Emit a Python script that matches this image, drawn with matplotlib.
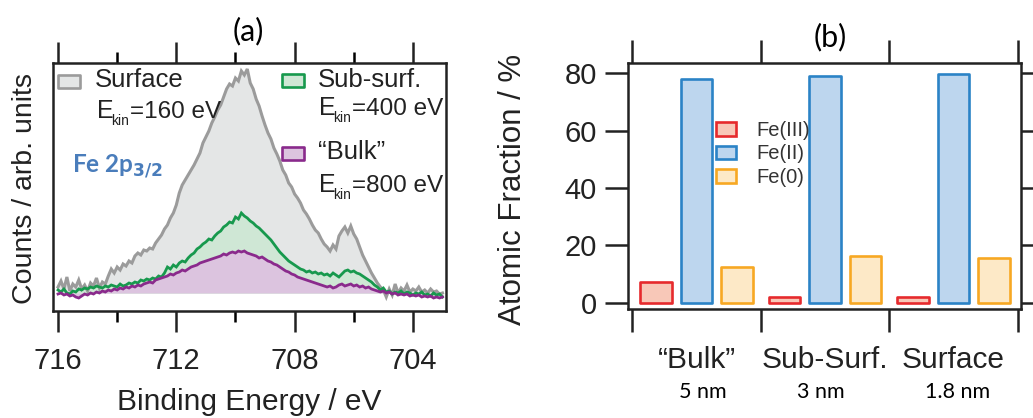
import numpy as np
import matplotlib
matplotlib.use("Agg")
import matplotlib.pyplot as plt
from matplotlib.patches import Rectangle

plt.rcParams['font.family'] = ['Liberation Sans', 'DejaVu Sans']
plt.rcParams['mathtext.fontset'] = 'custom'
plt.rcParams['mathtext.rm'] = 'Liberation Sans'

# ---------------- data: panel (a) spectra (arb. units) ----------------
energy = np.linspace(716.0, 703.0, 131)   # binding energy grid, eV

surface = [24, 30, 22, 34, 20, 27, 24, 31, 22, 26,
           20, 28, 25, 33, 23, 29, 27, 35, 42, 38,
           44, 41, 47, 45, 50, 48, 55, 58, 56, 61,
           60, 63, 62, 68, 72, 76, 82, 86, 93, 98,
           106, 118, 126, 131, 136, 141, 146, 152, 158, 168,
           174, 180, 188, 194, 201, 206, 214, 222, 227, 225,
           233, 230, 240, 236, 242, 228, 222, 212, 205, 195,
           186, 178, 172, 163, 157, 150, 141, 136, 128, 124,
           117, 113, 108, 101, 97, 92, 86, 81, 78, 72,
           67, 64, 60, 66, 62, 75, 80, 84, 78, 85,
           77, 72, 64, 56, 50, 44, 38, 33, 28, 24,
           21, 14, 22, 16, 27, 18, 23, 20, 26, 19,
           22, 20, 24, 19, 21, 18, 22, 19, 20, 17, 18]

subsurf = [21, 19, 22, 18, 17, 20, 19, 22, 21, 23,
           22, 24, 23, 25, 24, 23, 25, 24, 26, 25,
           24, 27, 25, 26, 28, 27, 29, 28, 31, 30,
           32, 31, 33, 32, 35, 34, 38, 44, 42, 46,
           44, 48, 50, 49, 53, 56, 58, 62, 64, 67,
           69, 72, 71, 75, 78, 80, 84, 86, 89, 88,
           94, 92, 98, 95, 93, 90, 88, 85, 83, 80,
           77, 74, 71, 67, 63, 59, 56, 53, 50, 48,
           46, 44, 42, 41, 39, 40, 38, 39, 37, 38,
           36, 37, 35, 38, 36, 34, 37, 40, 41, 39,
           40, 38, 37, 35, 33, 31, 29, 26, 24, 21,
           23, 19, 20, 17, 19, 18, 20, 17, 19, 18,
           16, 18, 17, 19, 16, 17, 15, 18, 16, 17, 14]

bulk = [17, 18, 16, 17, 15, 16, 14, 13, 15, 17,
        16, 18, 17, 19, 18, 20, 19, 21, 20, 22,
        21, 23, 22, 24, 23, 25, 24, 26, 25, 27,
        28, 29, 28, 31, 32, 33, 34, 35, 37, 36,
        38, 39, 41, 40, 42, 44, 45, 46, 48, 49,
        50, 51, 52, 53, 54, 55, 57, 56, 58, 59,
        58, 60, 59, 60, 58, 57, 56, 55, 53, 54,
        52, 50, 49, 47, 46, 44, 42, 40, 39, 37,
        36, 34, 33, 32, 31, 30, 29, 28, 27, 26,
        25, 24, 25, 23, 24, 26, 27, 25, 26, 27,
        25, 26, 24, 25, 23, 24, 22, 21, 20, 19,
        20, 18, 19, 17, 18, 16, 17, 16, 17, 15,
        16, 15, 16, 14, 15, 14, 15, 13, 14, 13, 14]

spectra_labels = ['Surface', 'Sub-surf.', '\u201cBulk\u201d']
spectra_ekin = ['160', '400', '800']

# ---------------- data: panel (b) atomic fractions ----------------
categories = ['\u201cBulk\u201d', 'Sub-Surf.', 'Surface']
depths = ['5 nm', '3 nm', '1.8 nm']
species = ['Fe(III)', 'Fe(II)', 'Fe(0)']
fe3 = [7.2, 2.0, 2.0]
fe2 = [78.0, 79.0, 79.6]
fe0 = [12.4, 16.5, 15.6]

# ---------------- figure ----------------
W, H = 1033, 418
fig = plt.figure(figsize=(W / 100, H / 100), dpi=100)
TXT = '#222222'

def fx(px):
    return px / W

def fy(py):
    return 1 - py / H

# ---- panel (a) ----
axa = fig.add_axes([fx(53), fy(311), (446 - 53) / W, (311 - 63) / H])
cols_line = ['#9b9b9b', '#17994d', '#8a2a8c']
cols_fill = ['#e4e6e6', '#cfe7d5', '#dcc4df']
base = 18
for i, ser in enumerate([surface, subsurf, bulk]):
    axa.fill_between(energy, base, ser, color=cols_fill[i], lw=0, zorder=1 + i)
for i, (ser, lw) in enumerate(zip([surface, subsurf, bulk], [2.2, 2.0, 2.0])):
    axa.plot(energy, ser, color=cols_line[i], lw=lw, zorder=5 + i,
             solid_joinstyle='miter')

axa.set_xlim(716.17, 702.88)
axa.set_ylim(0, 248)
axa.set_yticks([])
axa.set_xticks([716, 712, 708, 704])
axa.set_xticks([714, 710, 706], minor=True)
axa.tick_params(axis='x', which='major', direction='out', length=15, width=1.8,
                top=True, bottom=True, labelsize=21, pad=11, colors=TXT)
axa.tick_params(axis='x', which='minor', direction='out', length=8, width=1.8,
                top=True, bottom=True)
for s in axa.spines.values():
    s.set_linewidth(1.8)
    s.set_color(TXT)

# legend (a), drawn manually
def add_patch(ax, x0, y0, x1, y1, ec, fc, ax_l, ax_r, ax_t, ax_b):
    ax.add_patch(Rectangle(((x0 - ax_l) / (ax_r - ax_l), (ax_b - y1) / (ax_b - ax_t)),
                           (x1 - x0) / (ax_r - ax_l), (y1 - y0) / (ax_b - ax_t),
                           transform=ax.transAxes, ec=ec, fc=fc, lw=1.9,
                           joinstyle='round', zorder=10, clip_on=False))

A = (53, 446, 63, 311)
def ax_xy(px, py):
    return (px - A[0]) / (A[1] - A[0]), (A[3] - py) / (A[3] - A[2])

add_patch(axa, 58, 75, 80, 88, cols_line[0], cols_fill[0], *A)
add_patch(axa, 282, 74, 304, 87, cols_line[1], cols_fill[1], *A)
add_patch(axa, 282, 147, 304, 160, cols_line[2], cols_fill[2], *A)

leg_pos = [((95, 87), (97, 118)), ((318, 87), (319, 115)), ((318, 159), (319, 192))]
for lab, ek, (p1, p2) in zip(spectra_labels, spectra_ekin, leg_pos):
    axa.text(*ax_xy(*p1), lab, transform=axa.transAxes, fontsize=18.5,
             color=TXT, ha='left', va='baseline', zorder=11)
    ex, ey = p2
    axa.text(*ax_xy(ex, ey), 'E', transform=axa.transAxes, fontsize=18,
             color=TXT, ha='left', va='baseline', zorder=11)
    axa.text(*ax_xy(ex + 14, ey + 7), 'kin', transform=axa.transAxes,
             fontsize=10, color=TXT, ha='left', va='baseline', zorder=11)
    axa.text(*ax_xy(ex + 33, ey), '=' + ek + ' eV', transform=axa.transAxes,
             fontsize=17.5, color=TXT, ha='left', va='baseline', zorder=11)

axa.text(*ax_xy(72, 172), r'Fe 2p$_{\mathbf{3/2}}$', transform=axa.transAxes,
         fontsize=17.5, color='#4a7dbb', fontweight='bold', ha='left',
         va='baseline', family=['Lato', 'DejaVu Sans'], zorder=11)

fig.text(fx(25), fy(188), 'Counts / arb. units', rotation=90, fontsize=20.5,
         color=TXT, ha='center', va='center')
fig.text(fx(249), fy(402), 'Binding Energy / eV', fontsize=21.5, color=TXT,
         ha='center', va='center')
fig.text(fx(248), fy(31), '(a)', fontsize=22, color='black', ha='center',
         va='center', family=['Lato', 'DejaVu Sans'])

# ---- panel (b) ----
axb = fig.add_axes([fx(628), fy(309), (1021 - 628) / W, (309 - 63) / H])
x = np.arange(len(categories))
off = 0.315
bw = 0.245
edge = ['#e62a2d', '#2b83c6', '#f7a823']
face = ['#f8c8b8', '#bdd6ee', '#fde9c7']
for j, (vals, o) in enumerate(zip([fe3, fe2, fe0], [-off, 0, off])):
    axb.bar(x + o, vals, width=bw, color=face[j], edgecolor=edge[j], lw=1.9,
            joinstyle='round', label=species[j], zorder=3)

axb.set_xlim(-0.533, 2.525)
axb.set_ylim(-2.1, 83.5)
axb.set_yticks([0, 20, 40, 60, 80])
axb.tick_params(axis='y', direction='out', length=16.5, width=1.8,
                left=True, right=True, labelsize=21, pad=6, colors=TXT)
axb.set_xticks([-0.5, 0.5, 1.5, 2.5])
axb.set_xticklabels([])
axb.tick_params(axis='x', which='major', direction='out', length=16.5,
                width=1.8, top=True, bottom=True, colors=TXT)
axb.set_xticks(x, categories, minor=True)
axb.tick_params(axis='x', which='minor', length=0, labelsize=21.5, pad=27,
                colors=TXT)
for s in axb.spines.values():
    s.set_linewidth(1.8)
    s.set_color(TXT)

depth_off = [0.05, -0.03, 0.03]
for xi, d, o in zip(x, depths, depth_off):
    axb.text(xi + o, (309 - 392) / (309 - 63), d, transform=axb.get_xaxis_transform(),
             fontsize=15.5, color='black', ha='center', va='center',
             family=['Lato', 'DejaVu Sans'])

leg = axb.legend(loc='upper left', bbox_to_anchor=((716 - 628) / 393, (309 - 121) / 246),
                 frameon=False, fontsize=14.5, handlelength=1.0, handleheight=0.65,
                 labelspacing=0.22, handletextpad=1.0, borderpad=0, borderaxespad=0)
for t in leg.get_texts():
    t.set_color('#333333')

fig.text(fx(513), fy(189), 'Atomic Fraction / %', rotation=90, fontsize=22.5,
         color=TXT, ha='center', va='center')
fig.text(fx(830), fy(37), '(b)', fontsize=22, color='black', ha='center',
         va='center', family=['Lato', 'DejaVu Sans'])

fig.savefig('out.png', dpi=100)
